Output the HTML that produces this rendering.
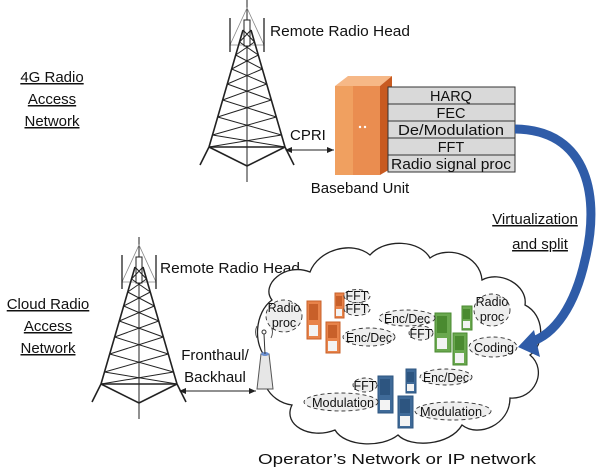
<!DOCTYPE html>
<html><head><meta charset="utf-8"><style>
html,body{margin:0;padding:0;background:#fff;}
svg{display:block;font-family:"Liberation Sans",sans-serif;}
</style></head><body>
<svg width="599" height="470" viewBox="0 0 599 470" xmlns="http://www.w3.org/2000/svg">
<defs>
<g id="tower" stroke="#222" fill="none" stroke-width="1">
  <line x1="0" y1="0" x2="0" y2="182"/>
  <path d="M0 8 L-17 45 L17 45 Z" stroke="#888" stroke-width="0.8"/>
  <line x1="-17" y1="18" x2="-17" y2="52" stroke-width="1.3"/>
  <line x1="17" y1="18" x2="17" y2="52" stroke-width="1.3"/>
  <rect x="-3" y="20" width="6" height="26" fill="#fff"/>
  <path d="M-4 30 L-38 147 M4 30 L38 147 M-38 147 L38 147" stroke-width="1.6"/>
  <path d="M-38 147 L-47 165 M38 147 L47 165 M-38 147 L0 166 L38 147" stroke-width="1.6"/>
  <path d="M-4 30 L7.5 42 M4 30 L-7.5 42 M-7.5 42 L11.3 55 M7.5 42 L-11.3 55 M-11.3 55 L15.3 69 M11.3 55 L-15.3 69 M-15.3 69 L19.7 84 M15.3 69 L-19.7 84 M-19.7 84 L24.3 100 M19.7 84 L-24.3 100 M-24.3 100 L29.3 117 M24.3 100 L-29.3 117 M-29.3 117 L34.5 135 M29.3 117 L-34.5 135 M-34.5 135 L38 147 M34.5 135 L-38 147"/>
</g>
<marker id="ah" markerWidth="8" markerHeight="8" refX="7" refY="4" orient="auto"><path d="M0 1 L7 4 L0 7 Z" fill="#222"/></marker>
<marker id="ahs" markerWidth="8" markerHeight="8" refX="1" refY="4" orient="auto"><path d="M7 1 L0 4 L7 7 Z" fill="#222"/></marker>
</defs>

<use href="#tower" x="247" y="0"/>
<use href="#tower" x="139" y="237"/>

<g font-size="15" fill="#111">
<text x="270" y="36" textLength="140" lengthAdjust="spacingAndGlyphs">Remote Radio Head</text>
<text x="160" y="273" textLength="140" lengthAdjust="spacingAndGlyphs">Remote Radio Head</text>
<g text-anchor="middle" text-decoration="underline">
<text x="52" y="82">4G Radio</text><text x="52" y="104">Access</text><text x="52" y="126">Network</text>
<text x="48" y="309">Cloud Radio</text><text x="48" y="331">Access</text><text x="48" y="353">Network</text>
<text x="535" y="224">Virtualization</text><text x="540" y="249">and split</text>
</g>
<text x="290" y="140">CPRI</text>
<text x="360" y="193" text-anchor="middle">Baseband Unit</text>
<text x="215" y="360" text-anchor="middle">Fronthaul/</text>
<text x="215" y="382" text-anchor="middle">Backhaul</text>
<text x="397" y="464" text-anchor="middle" textLength="278" lengthAdjust="spacingAndGlyphs">Operator’s Network or IP network</text>
</g>
<line x1="286" y1="150" x2="334" y2="150" stroke="#222" marker-end="url(#ah)" marker-start="url(#ahs)"/>
<line x1="180" y1="391" x2="256" y2="391" stroke="#222" marker-end="url(#ah)" marker-start="url(#ahs)"/>

<!-- baseband unit -->
<polygon points="335,86 348,76 392,76 380,86" fill="#f6b887"/>
<rect x="335" y="86" width="18" height="89" fill="#f0a060"/>
<rect x="353" y="86" width="27" height="89" fill="#ea8d50"/>
<polygon points="380,86 392,76 392,168 380,175" fill="#c85a20"/>
<circle cx="360" cy="127" r="1.2" fill="#fff"/><circle cx="365" cy="127" r="1.2" fill="#fff"/>
<g stroke="#333" fill="#d9d9d9" stroke-width="1">
<rect x="388" y="87" width="127" height="17"/><rect x="388" y="104" width="127" height="17"/>
<rect x="388" y="121" width="127" height="17"/><rect x="388" y="138" width="127" height="17"/>
<rect x="388" y="155" width="127" height="17"/>
</g>
<g font-size="14.5" text-anchor="middle" fill="#111">
<text x="451" y="101">HARQ</text><text x="451" y="118">FEC</text><text x="451" y="135" textLength="106" lengthAdjust="spacingAndGlyphs">De/Modulation</text>
<text x="451" y="152">FFT</text><text x="451" y="169" textLength="120" lengthAdjust="spacingAndGlyphs">Radio signal proc</text>
</g>

<!-- cloud -->
<path d="M272 300 C260 285 285 262 310 272 C318 250 352 240 370 255 C385 238 420 240 430 258 C448 245 480 255 482 280 C500 270 528 285 525 305 C545 315 545 345 530 355 C548 370 535 400 510 398 C510 425 478 438 462 425 C450 446 410 448 398 435 C382 448 345 447 335 430 C310 440 282 425 292 405 C268 402 255 375 268 360 C252 345 255 312 272 300 Z" fill="#fff" stroke="#222" stroke-width="1.3"/>

<!-- blue arrow -->
<path d="M515 129 C590 130 600 200 585 260 C575 305 555 335 530 342" fill="none" stroke="#2f5ca8" stroke-width="9"/>
<polygon points="518,347 534,330 540,357" fill="#2f5ca8"/>

<!-- antenna -->
<path d="M257 389 L261 354 L269 354 L273 389 Z" fill="#e6e6e6" stroke="#555"/>
<ellipse cx="265" cy="354" rx="4" ry="2" fill="#6a8fd0"/>
<line x1="265" y1="354" x2="264" y2="334" stroke="#333"/>
<circle cx="264" cy="332" r="2" fill="none" stroke="#333"/>
<path d="M257 326 Q254 332 257 338 M271 326 Q274 332 271 338" fill="none" stroke="#555"/>

<!-- servers -->
<g stroke-width="1">
<rect x="307" y="301" width="14" height="38" fill="#e8834a" stroke="#c8602a"/><rect x="309" y="304" width="9" height="16" fill="#c8602a"/><rect x="309" y="325" width="9" height="11" fill="#f3f3f3"/>
<rect x="335" y="293" width="9" height="25" fill="#e8834a" stroke="#c8602a"/><rect x="336" y="296" width="6" height="10" fill="#c8602a"/><rect x="336" y="309" width="6" height="7" fill="#f3f3f3"/>
<rect x="326" y="322" width="14" height="31" fill="#e8834a" stroke="#c8602a"/><rect x="328" y="325" width="9" height="13" fill="#c8602a"/><rect x="328" y="341" width="9" height="10" fill="#f3f3f3"/>
<rect x="435" y="313" width="16" height="39" fill="#6aa84f" stroke="#4a8a30"/><rect x="437" y="316" width="10" height="17" fill="#4a8a30"/><rect x="437" y="338" width="10" height="11" fill="#f3f3f3"/>
<rect x="462" y="306" width="10" height="24" fill="#6aa84f" stroke="#4a8a30"/><rect x="463" y="309" width="7" height="10" fill="#4a8a30"/><rect x="463" y="321" width="7" height="7" fill="#f3f3f3"/>
<rect x="453" y="333" width="14" height="32" fill="#6aa84f" stroke="#4a8a30"/><rect x="455" y="336" width="9" height="14" fill="#4a8a30"/><rect x="455" y="353" width="9" height="10" fill="#f3f3f3"/>
<rect x="378" y="376" width="15" height="37" fill="#3f6a98" stroke="#2d5580"/><rect x="380" y="379" width="10" height="16" fill="#2d5580"/><rect x="380" y="400" width="10" height="10" fill="#f3f3f3"/>
<rect x="406" y="369" width="10" height="24" fill="#3f6a98" stroke="#2d5580"/><rect x="407" y="372" width="7" height="10" fill="#2d5580"/><rect x="407" y="384" width="7" height="7" fill="#f3f3f3"/>
<rect x="398" y="396" width="15" height="32" fill="#3f6a98" stroke="#2d5580"/><rect x="400" y="399" width="10" height="14" fill="#2d5580"/><rect x="400" y="416" width="10" height="10" fill="#f3f3f3"/>
</g>

<g fill="#eee" stroke="#333" stroke-dasharray="4,3" stroke-width="0.9">
<ellipse cx="284" cy="316" rx="18" ry="16"/>
<ellipse cx="357" cy="296" rx="13" ry="6.5"/><ellipse cx="357" cy="309" rx="13" ry="6.5"/>
<ellipse cx="369" cy="337" rx="26" ry="9"/>
<ellipse cx="407" cy="318" rx="28" ry="8"/><ellipse cx="421" cy="333" rx="12" ry="7"/>
<ellipse cx="492" cy="310" rx="18" ry="16"/>
<ellipse cx="493" cy="347" rx="24" ry="10"/>
<ellipse cx="446" cy="377" rx="26" ry="8"/>
<ellipse cx="365" cy="385" rx="12" ry="7"/>
<ellipse cx="341" cy="402" rx="37" ry="9"/>
<ellipse cx="453" cy="411" rx="38" ry="9"/>
</g>
<g font-size="12.5" text-anchor="middle" fill="#111">
<text x="284" y="312">Radio</text><text x="284" y="327">proc</text>
<text x="357" y="300">FFT</text><text x="357" y="313">FFT</text>
<text x="369" y="342" textLength="46" lengthAdjust="spacingAndGlyphs">Enc/Dec</text>
<text x="407" y="323" textLength="46" lengthAdjust="spacingAndGlyphs">Enc/Dec</text><text x="421" y="338">FFT</text>
<text x="492" y="306">Radio</text><text x="492" y="321">proc</text>
<text x="494" y="352" textLength="40" lengthAdjust="spacingAndGlyphs">Coding</text>
<text x="446" y="382" textLength="46" lengthAdjust="spacingAndGlyphs">Enc/Dec</text>
<text x="365" y="390">FFT</text>
<text x="343" y="407" textLength="62" lengthAdjust="spacingAndGlyphs">Modulation</text>
<text x="451" y="416" textLength="62" lengthAdjust="spacingAndGlyphs">Modulation</text>
</g>
</svg>
</body></html>
